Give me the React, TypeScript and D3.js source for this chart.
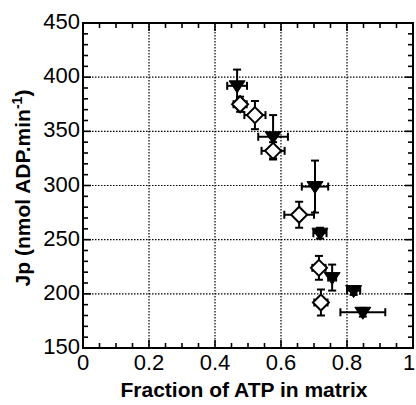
import React, { useRef, useEffect } from 'react';
import * as d3 from 'd3';

// filled triangles (down)
const triX = [0.467, 0.576, 0.703, 0.718, 0.755, 0.82, 0.848];
const triY = [392, 345, 299, 256, 215, 203, 183];
const triXErr = [0.03, 0.045, 0.04, 0.02, 0.012, 0.02, 0.068];
const triYErr = [15, 20, 24, 5, 12, 4, 4];

// open diamonds
const diaX = [0.476, 0.521, 0.576, 0.655, 0.715, 0.721];
const diaY = [375, 365, 332, 273, 224, 192];
const diaXErr = [0.02, 0.032, 0.035, 0.045, 0.02, 0.02];
const diaYErr = [7, 13, 8, 12, 11, 12];

const xTicks = [0, 0.2, 0.4, 0.6, 0.8, 1];
const xTickLabels = ['0', '0.2', '0.4', '0.6', '0.8', '1'];
const yTicks = [150, 200, 250, 300, 350, 400, 450];

export default function App() {
  const svgRef = useRef<SVGSVGElement>(null);

  useEffect(() => {
    const svg = d3.select(svgRef.current);
    svg.selectAll('*').remove();

    const left = 83, right = 413, top = 23, bottom = 348;
    const x = d3.scaleLinear().domain([0, 1]).range([left, right]);
    const y = d3.scaleLinear().domain([150, 450]).range([bottom, top]);
    const font = 'Liberation Sans, Arial, Helvetica, sans-serif';

    // dotted grid
    const grid = svg.append('g').attr('stroke', '#000').attr('stroke-width', 1.2).attr('stroke-dasharray', '1.5,1.5');
    xTicks.slice(1, -1).forEach(t => {
      grid.append('line').attr('x1', x(t)).attr('x2', x(t)).attr('y1', top).attr('y2', bottom);
    });
    yTicks.slice(1, -1).forEach(t => {
      grid.append('line').attr('x1', left).attr('x2', right).attr('y1', y(t)).attr('y2', y(t));
    });

    // inward ticks on all four sides
    const ticks = svg.append('g').attr('stroke', '#000').attr('stroke-width', 1.6);
    d3.range(0, 1.0001, 0.05).forEach(t => {
      const major = Math.abs(t * 5 - Math.round(t * 5)) < 1e-6;
      const len = major ? 8 : 5;
      ticks.append('line').attr('x1', x(t)).attr('x2', x(t)).attr('y1', bottom).attr('y2', bottom - len);
      ticks.append('line').attr('x1', x(t)).attr('x2', x(t)).attr('y1', top).attr('y2', top + len);
    });
    d3.range(150, 451, 10).forEach(t => {
      const major = t % 50 === 0;
      const len = major ? 8 : 5;
      ticks.append('line').attr('x1', left).attr('x2', left + len).attr('y1', y(t)).attr('y2', y(t));
      ticks.append('line').attr('x1', right).attr('x2', right - len).attr('y1', y(t)).attr('y2', y(t));
    });

    // frame
    svg.append('rect')
      .attr('x', left).attr('y', top)
      .attr('width', right - left).attr('height', bottom - top)
      .attr('fill', 'none').attr('stroke', '#000').attr('stroke-width', 2);

    // tick labels
    svg.append('g').selectAll('text')
      .data(xTicks)
      .enter()
      .append('text')
      .attr('x', d => (d === 1 ? 409 : x(d)))
      .attr('y', 370)
      .attr('text-anchor', 'middle')
      .style('font-family', font)
      .style('font-size', '22px')
      .text((d, i) => xTickLabels[i]);

    svg.append('g').selectAll('text')
      .data(yTicks)
      .enter()
      .append('text')
      .attr('x', 80)
      .attr('y', d => y(d) + 6)
      .attr('text-anchor', 'end')
      .style('font-family', font)
      .style('font-size', '22px')
      .text(d => d);

    // axis titles
    svg.append('text')
      .attr('x', 244)
      .attr('y', 397)
      .attr('text-anchor', 'middle')
      .style('font-family', font)
      .style('font-size', '21px')
      .style('font-weight', 'bold')
      .text('Fraction of ATP in matrix');

    const yt = svg.append('text')
      .attr('transform', 'translate(30,188) rotate(-90)')
      .attr('text-anchor', 'middle')
      .style('font-family', font)
      .style('font-size', '21px')
      .style('font-weight', 'bold');
    yt.append('tspan').text('Jp (nmol ADP.min');
    yt.append('tspan').attr('dy', -8).style('font-size', '14px').text('-1');
    yt.append('tspan').attr('dy', 8).text(')');

    // error bars
    const drawErr = (xs: number[], ys: number[], xe: number[], ye: number[]) => {
      const g = svg.append('g').attr('stroke', '#000').attr('stroke-width', 2).attr('fill', 'none');
      xs.forEach((v, i) => {
        const cx = x(v), cy = y(ys[i]);
        const x0 = x(v - xe[i]), x1 = x(v + xe[i]);
        const y0 = y(ys[i] - ye[i]), y1 = y(ys[i] + ye[i]);
        g.append('line').attr('x1', x0).attr('x2', x1).attr('y1', cy).attr('y2', cy);
        g.append('line').attr('x1', x0).attr('x2', x0).attr('y1', cy - 4).attr('y2', cy + 4);
        g.append('line').attr('x1', x1).attr('x2', x1).attr('y1', cy - 4).attr('y2', cy + 4);
        g.append('line').attr('x1', cx).attr('x2', cx).attr('y1', y0).attr('y2', y1);
        g.append('line').attr('x1', cx - 4).attr('x2', cx + 4).attr('y1', y0).attr('y2', y0);
        g.append('line').attr('x1', cx - 4).attr('x2', cx + 4).attr('y1', y1).attr('y2', y1);
      });
    };
    drawErr(diaX, diaY, diaXErr, diaYErr);
    drawErr(triX, triY, triXErr, triYErr);

    // open diamonds
    svg.append('g').selectAll('path')
      .data(diaX)
      .enter()
      .append('path')
      .attr('d', (d, i) => {
        const cx = x(d), cy = y(diaY[i]), r = 8;
        return `M${cx},${cy - r}L${cx + r},${cy}L${cx},${cy + r}L${cx - r},${cy}Z`;
      })
      .attr('fill', 'white')
      .attr('stroke', 'black')
      .attr('stroke-width', 2);

    // filled down triangles
    svg.append('g').selectAll('path')
      .data(triX)
      .enter()
      .append('path')
      .attr('d', (d, i) => {
        const cx = x(d), cy = y(triY[i]);
        return `M${cx - 8},${cy - 5}L${cx + 8},${cy - 5}L${cx},${cy + 7}Z`;
      })
      .attr('fill', 'black')
      .attr('stroke', 'black')
      .attr('stroke-width', 1);
  }, []);

  return (
    <svg
      ref={svgRef}
      width={416}
      height={405}
      style={{ position: 'absolute', left: 0, top: 0, background: 'white' }}
    />
  );
}
